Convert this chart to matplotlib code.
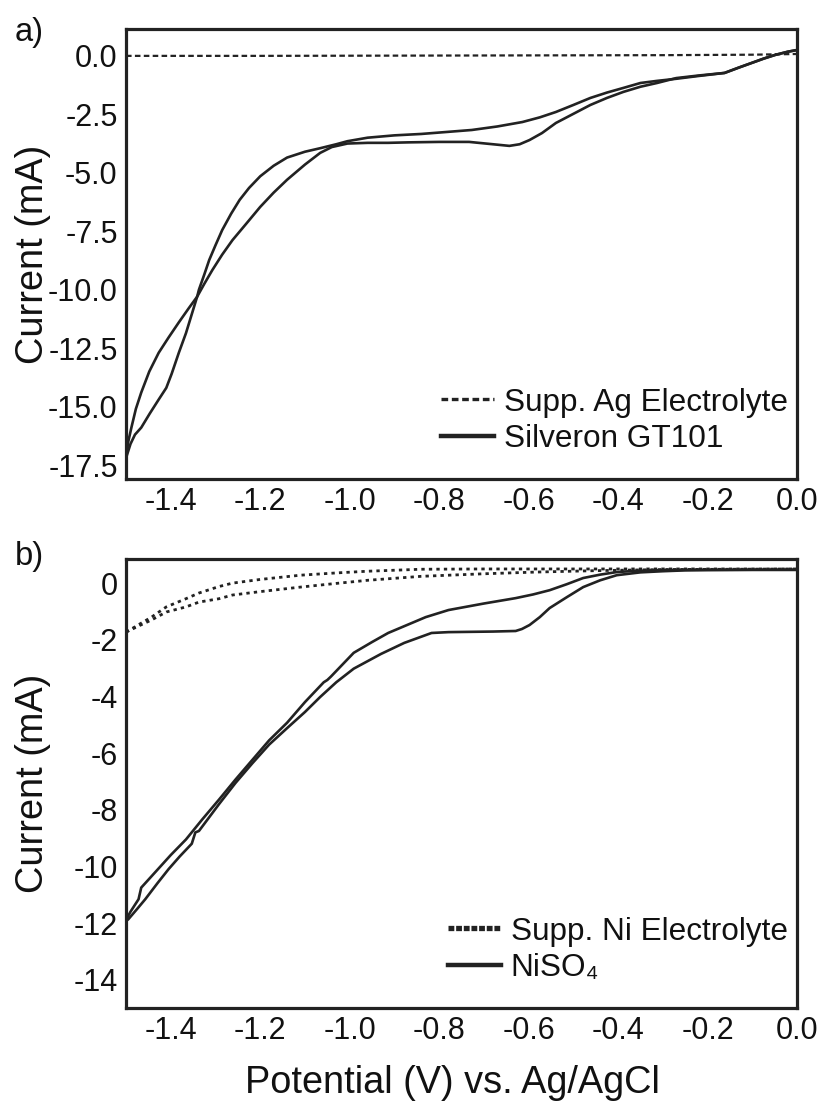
import matplotlib
matplotlib.use("Agg")
import matplotlib.pyplot as plt

plt.rcParams['font.family'] = ['Liberation Sans', 'DejaVu Sans']

# ---------------- Panel a data (Ag) ----------------
ag_supp_x = [-1.5, -1.2, -0.9, -0.6, -0.3, -0.1, 0.0]
ag_supp_y = [0.0, 0.0, 0.01, 0.02, 0.03, 0.05, 0.08]

ag_fwd_x = [0.003, -0.02, -0.049, -0.075, -0.101, -0.13, -0.162, -0.22, -0.27, -0.313,
            -0.35, -0.388, -0.425, -0.462, -0.50, -0.539, -0.57, -0.598, -0.62, -0.643,
            -0.68, -0.733, -0.80, -0.87, -0.914, -0.96, -1.005, -1.04, -1.066, -1.10,
            -1.14, -1.17, -1.2, -1.23, -1.262, -1.285, -1.307, -1.325, -1.341, -1.36,
            -1.382, -1.405, -1.427, -1.448, -1.466, -1.478, -1.488, -1.495, -1.5]
ag_fwd_y = [0.26, 0.18, 0.04, -0.12, -0.3, -0.5, -0.73, -0.84, -0.95, -1.16,
            -1.32, -1.54, -1.8, -2.1, -2.48, -2.87, -3.3, -3.6, -3.78, -3.85,
            -3.78, -3.68, -3.68, -3.7, -3.72, -3.72, -3.75, -3.9, -4.15, -4.65,
            -5.3, -5.85, -6.46, -7.15, -7.88, -8.5, -9.16, -9.75, -10.3, -10.8,
            -11.4, -12.05, -12.7, -13.5, -14.4, -15.1, -15.9, -16.5, -17.2]

ag_rev_x = [-1.5, -1.49, -1.48, -1.466, -1.447, -1.427, -1.41, -1.398, -1.382, -1.366,
            -1.341, -1.337, -1.325, -1.314, -1.30, -1.285, -1.265, -1.246, -1.225, -1.2,
            -1.17, -1.14, -1.10, -1.066, -1.03, -1.005, -0.96, -0.90, -0.84, -0.78,
            -0.727, -0.67, -0.614, -0.575, -0.539, -0.50, -0.462, -0.425, -0.388, -0.35,
            -0.313, -0.27, -0.22, -0.162, -0.13, -0.101, -0.075, -0.049, -0.02, 0.003]
ag_rev_y = [-17.2, -16.6, -16.2, -15.9, -15.3, -14.7, -14.2, -13.6, -12.7, -11.86,
            -10.3, -10.0, -9.35, -8.73, -8.1, -7.45, -6.75, -6.16, -5.65, -5.15,
            -4.7, -4.35, -4.1, -3.95, -3.78, -3.65, -3.5, -3.4, -3.34, -3.25,
            -3.17, -3.02, -2.83, -2.63, -2.4, -2.1, -1.8, -1.57, -1.37, -1.16,
            -1.07, -0.98, -0.86, -0.73, -0.5, -0.3, -0.12, 0.04, 0.18, 0.26]

# ---------------- Panel b data (Ni) ----------------
ni_supp_up_x = [-1.5, -1.47, -1.443, -1.41, -1.366, -1.337, -1.292, -1.262, -1.2, -1.11,
                -1.03, -0.96, -0.84, -0.7, -0.5, -0.3, 0.0]
ni_supp_up_y = [-1.73, -1.45, -1.2, -0.84, -0.55, -0.35, -0.12, 0.0, 0.13, 0.28,
                0.36, 0.42, 0.49, 0.5, 0.5, 0.5, 0.5]
ni_supp_lo_x = [-1.5, -1.47, -1.443, -1.41, -1.366, -1.337, -1.292, -1.262, -1.2, -1.11,
                -1.03, -0.96, -0.84, -0.7, -0.584, -0.45, -0.3, 0.0]
ni_supp_lo_y = [-1.73, -1.5, -1.3, -1.02, -0.84, -0.67, -0.55, -0.42, -0.3, -0.14,
                -0.01, 0.1, 0.24, 0.33, 0.39, 0.44, 0.48, 0.5]

ni_fwd_x = [0.0, -0.1, -0.2, -0.25, -0.3, -0.35, -0.403, -0.44, -0.478, -0.515,
            -0.553, -0.575, -0.598, -0.615, -0.629, -0.68, -0.73, -0.779, -0.817, -0.878,
            -0.93, -0.991, -1.03, -1.066, -1.10, -1.14, -1.18, -1.217, -1.255, -1.292,
            -1.337, -1.345, -1.353, -1.38, -1.405, -1.43, -1.457, -1.475, -1.495, -1.502]
ni_fwd_y = [0.47, 0.47, 0.46, 0.45, 0.42, 0.38, 0.28, 0.1, -0.14, -0.5,
            -0.88, -1.2, -1.48, -1.62, -1.69, -1.71, -1.72, -1.73, -1.76, -2.11,
            -2.5, -3.02, -3.5, -4.02, -4.55, -5.12, -5.7, -6.35, -7.05, -7.8,
            -8.75, -8.8, -9.2, -9.65, -10.1, -10.6, -11.16, -11.5, -11.87, -11.95]

ni_rev_x = [-1.502, -1.49, -1.472, -1.466, -1.443, -1.40, -1.366, -1.33, -1.292, -1.255,
            -1.217, -1.18, -1.14, -1.10, -1.058, -1.05, -1.042, -0.991, -0.95, -0.914,
            -0.86, -0.83, -0.779, -0.70, -0.629, -0.59, -0.553, -0.515, -0.478, -0.44,
            -0.403, -0.365, -0.327, -0.25, -0.15, 0.0]
ni_rev_y = [-11.95, -11.6, -11.16, -10.75, -10.35, -9.6, -9.05, -8.35, -7.64, -6.93,
            -6.23, -5.55, -4.93, -4.2, -3.5, -3.42, -3.3, -2.46, -2.08, -1.76,
            -1.4, -1.2, -0.95, -0.72, -0.53, -0.4, -0.25, -0.04, 0.18, 0.3,
            0.39, 0.43, 0.45, 0.47, 0.47, 0.47]

xticks = [-1.4, -1.2, -1.0, -0.8, -0.6, -0.4, -0.2, 0.0]
a_yticks = [0.0, -2.5, -5.0, -7.5, -10.0, -12.5, -15.0, -17.5]
b_yticks = [0, -2, -4, -6, -8, -10, -12, -14]

INK = '#222222'
TXT = '#111111'
fig = plt.figure(figsize=(8.21, 11.02), dpi=100)
ax_a = fig.add_axes([0.1535, 0.5653, 0.8173, 0.4084])
ax_b = fig.add_axes([0.1535, 0.0853, 0.8173, 0.4074])

# panel a
la1, = ax_a.plot(ag_supp_x, ag_supp_y, color=INK, lw=1.6, ls=(0, (2.5, 1.5)),
                 label='Supp. Ag Electrolyte')
la2, = ax_a.plot(ag_fwd_x, ag_fwd_y, color=INK, lw=1.9, label='Silveron GT101',
                 solid_joinstyle='round')
ax_a.plot(ag_rev_x, ag_rev_y, color=INK, lw=1.9, solid_joinstyle='round')
ax_a.set_xlim(-1.5, 0.0)
ax_a.set_ylim(-18.1, 1.15)
ax_a.set_yticks(a_yticks)
ax_a.set_yticklabels(['%.1f' % v for v in a_yticks])

# panel b
lb1, = ax_b.plot(ni_supp_up_x, ni_supp_up_y, color=INK, lw=2.0, ls=(0, (1.2, 1.5)),
                 label='Supp. Ni Electrolyte')
ax_b.plot(ni_supp_lo_x, ni_supp_lo_y, color=INK, lw=2.0, ls=(0, (1.2, 1.5)))
lb2, = ax_b.plot(ni_fwd_x, ni_fwd_y, color=INK, lw=1.9, label='NiSO\u2084',
                 solid_joinstyle='round')
ax_b.plot(ni_rev_x, ni_rev_y, color=INK, lw=1.9, solid_joinstyle='round')
ax_b.set_xlim(-1.5, 0.0)
ax_b.set_ylim(-15.0, 0.85)
ax_b.set_yticks(b_yticks)
ax_b.set_yticklabels(['%d' % v for v in b_yticks])

for ax in (ax_a, ax_b):
    ax.set_xticks(xticks)
    ax.set_xticklabels(['%.1f' % v for v in xticks])
    ax.tick_params(axis='both', length=0, pad=6, labelsize=22, labelcolor=TXT)
    for sp in ax.spines.values():
        sp.set_linewidth(2.3)
        sp.set_color(INK)
    ax.set_ylabel('Current (mA)', fontsize=27.3, color=TXT)
    ax.yaxis.set_label_coords(-0.112, 0.5)

ax_b.set_xlabel('Potential (V) vs. Ag/AgCl', fontsize=27.3, color=TXT)
ax_b.xaxis.set_label_coords(0.487, -0.127)

leg_a = ax_a.legend(handles=[la1, la2], loc='lower right', bbox_to_anchor=(1.0, 0.035),
                    frameon=False, fontsize=22.7, handlelength=1.7, handletextpad=0.3,
                    labelspacing=0.2, borderaxespad=0.2, borderpad=0.1)
ll = leg_a.get_lines()
ll[0].set_linewidth(2.4)
ll[0].set_linestyle((0, (2.0, 1.1)))
ll[1].set_linewidth(3.2)
leg_b = ax_b.legend(handles=[lb1, lb2], loc='lower right', bbox_to_anchor=(1.0, 0.035),
                    frameon=False, fontsize=22.7, handlelength=1.7, handletextpad=0.3,
                    labelspacing=0.2, borderaxespad=0.2, borderpad=0.1)
ll = leg_b.get_lines()
ll[0].set_linewidth(3.8)
ll[0].set_linestyle((0, (1.1, 0.35)))
ll[1].set_linewidth(3.2)
for leg in (leg_a, leg_b):
    for t in leg.get_texts():
        t.set_color(TXT)

fig.text(29 / 821, 1 - 33 / 1102, 'a)', fontsize=23.5, ha='center', va='center', color=TXT)
fig.text(29 / 821, 1 - 557 / 1102, 'b)', fontsize=23.5, ha='center', va='center', color=TXT)

fig.savefig('out.png', dpi=100, facecolor='white')
